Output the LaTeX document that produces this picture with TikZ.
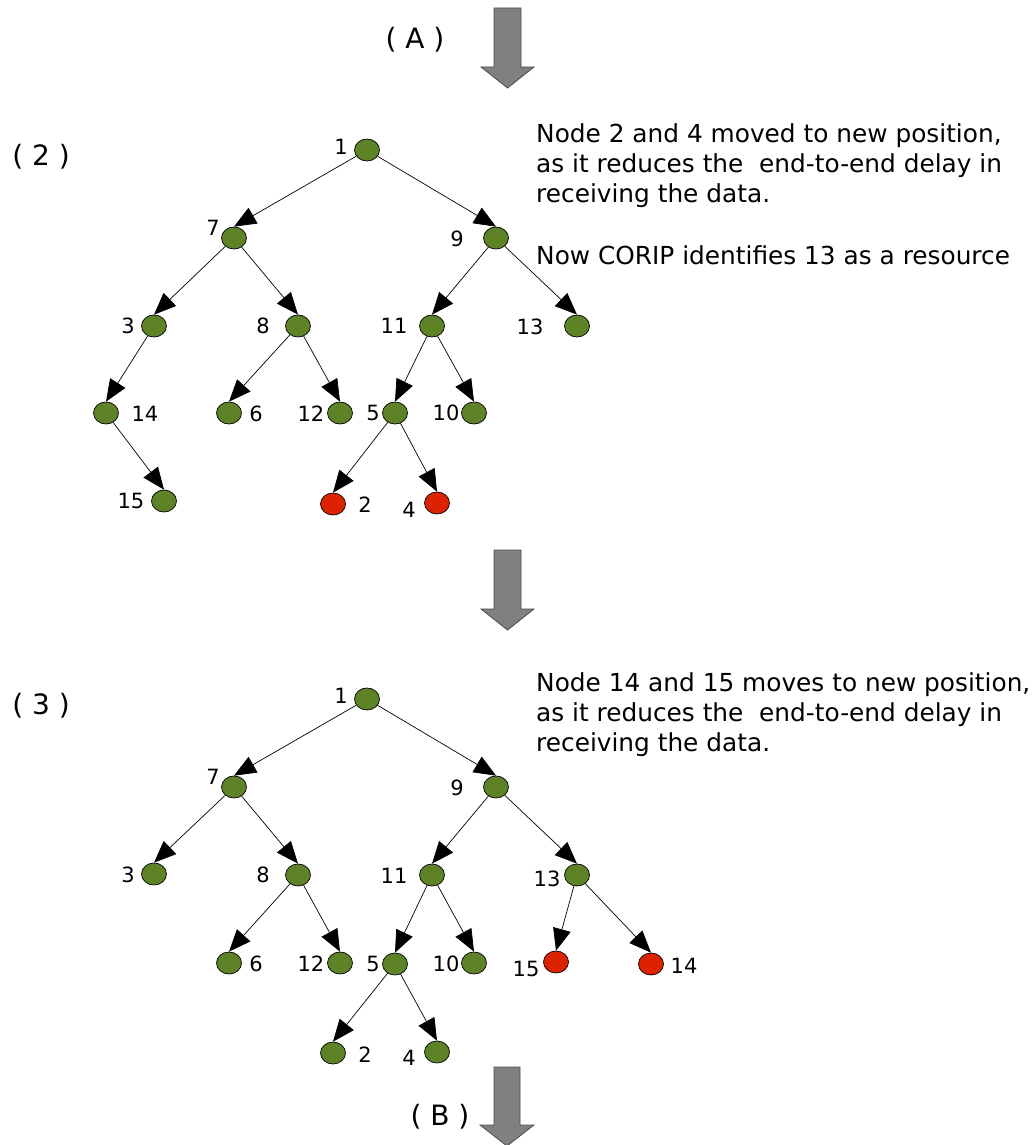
\documentclass[tikz,border=0pt]{standalone}
\usepackage{fontspec}
\setmainfont{DejaVu Sans}
\usetikzlibrary{arrows.meta,shapes.geometric}
\definecolor{leafgreen}{RGB}{94,130,38}
\definecolor{movedred}{RGB}{221,34,0}
\definecolor{arrowgray}{RGB}{128,128,128}

\begin{document}
\begin{tikzpicture}[x=1pt,y=-1pt,
  vert/.style={ellipse, draw=black, line width=0.7pt, minimum width=25pt, minimum height=22pt, inner sep=0pt},
  ok/.style={vert, fill=leafgreen},
  moved/.style={vert, fill=movedred},
  num/.style={font=\fontsize{21}{24}\selectfont, inner sep=0pt},
  link/.style={line width=0.7pt, -{Triangle[length=22pt,width=18pt]}},
  note/.style={font=\fontsize{24.8}{30}\selectfont, align=left, anchor=north west, inner sep=0pt},
  tag/.style={font=\fontsize{28}{30}\selectfont, inner sep=0pt},
  bigarrow/.style={fill=arrowgray, draw=black!70, line width=0.8pt}
]
\useasboundingbox (0,0) rectangle (1033,1145);

% step arrows between the stages
\draw[bigarrow] (494,8) -- (521,8) -- (521,67) -- (534,67) -- (507.5,88) -- (481,67) -- (494,67) -- cycle;
\draw[bigarrow] (494,550) -- (521,550) -- (521,609) -- (534,609) -- (507.5,630) -- (481,609) -- (494,609) -- cycle;
\draw[bigarrow] (494,1067) -- (520,1067) -- (520,1125) -- (534,1125) -- (507,1146) -- (480,1125) -- (494,1125) -- cycle;
\node[tag] (tA) at (415,40) {( A )};
\node[tag] (tB) at (440,1117) {( B )};

% ---------- stage (2) ----------
\node[tag] (s2) at (41,157) {( 2 )};
\node[ok] (a1) at (367,150) {};
\node[ok] (a7) at (234,238) {};
\node[ok] (a9) at (496,238) {};
\node[ok] (a3) at (154,326) {};
\node[ok] (a8) at (298,326) {};
\node[ok] (a11) at (432,326) {};
\node[ok] (a13) at (577,326) {};
\node[ok] (a14) at (106,413) {};
\node[ok] (a6) at (229,413) {};
\node[ok] (a12) at (340,413) {};
\node[ok] (a5) at (395,413) {};
\node[ok] (a10) at (474,413) {};
\node[ok] (a15) at (164,501) {};
\node[moved] (a2) at (333,504) {};
\node[moved] (a4) at (437,503) {};

\node[num] at (341,147) {1};
\node[num] at (213,228) {7};
\node[num] at (457,239) {9};
\node[num] at (128,326) {3};
\node[num] at (263,326) {8};
\node[num] at (394,326) {11};
\node[num] at (530,327) {13};
\node[num] at (145,414) {14};
\node[num] at (256,414) {6};
\node[num] at (311,414) {12};
\node[num] at (373,413) {5};
\node[num] at (446,413) {10};
\node[num] at (131,501) {15};
\node[num] at (365,505) {2};
\node[num] at (409,510) {4};

\foreach \p/\c in {a1/a7,a1/a9,a7/a3,a7/a8,a3/a14,a8/a6,a8/a12,a9/a11,a9/a13,a11/a5,a11/a10,a14/a15,a5/a2,a5/a4}
  \draw[link] (\p) -- (\c.north);

\node[note] (n2) at (536,123) {Node 2 and 4 moved to new position,\\as it reduces the\ \ end-to-end delay in\\receiving the data.};
\node[note] (n2b) at (536,245) {Now CORIP identifies 13 as a resource};

% ---------- stage (3) ----------
\node[tag] (s3) at (41,706) {( 3 )};
\node[ok] (b1) at (367,699) {};
\node[ok] (b7) at (234,787) {};
\node[ok] (b9) at (496,787) {};
\node[ok] (b3) at (154,874) {};
\node[ok] (b8) at (298,875) {};
\node[ok] (b11) at (432,875) {};
\node[ok] (b13) at (577,875) {};
\node[ok] (b6) at (229,963) {};
\node[ok] (b12) at (340,963) {};
\node[ok] (b5) at (395,964) {};
\node[ok] (b10) at (474,963) {};
\node[moved] (b15) at (556,962) {};
\node[moved] (b14) at (651,964) {};
\node[ok] (b2) at (333,1053) {};
\node[ok] (b4) at (437,1052) {};

\node[num] at (341,696) {1};
\node[num] at (213,777) {7};
\node[num] at (457,788) {9};
\node[num] at (128,875) {3};
\node[num] at (263,875) {8};
\node[num] at (394,876) {11};
\node[num] at (547,879) {13};
\node[num] at (256,964) {6};
\node[num] at (311,964) {12};
\node[num] at (373,964) {5};
\node[num] at (446,964) {10};
\node[num] at (526,969) {15};
\node[num] at (684,966) {14};
\node[num] at (365,1055) {2};
\node[num] at (409,1058) {4};

\foreach \p/\c in {b1/b7,b1/b9,b7/b3,b7/b8,b8/b6,b8/b12,b9/b11,b9/b13,b11/b5,b11/b10,b13/b15,b13/b14,b5/b2,b5/b4}
  \draw[link] (\p) -- (\c.north);

\node[note] (n3) at (536,672) {Node 14 and 15 moves to new position,\\as it reduces the\ \ end-to-end delay in\\receiving the data.};
\end{tikzpicture}
\end{document}
